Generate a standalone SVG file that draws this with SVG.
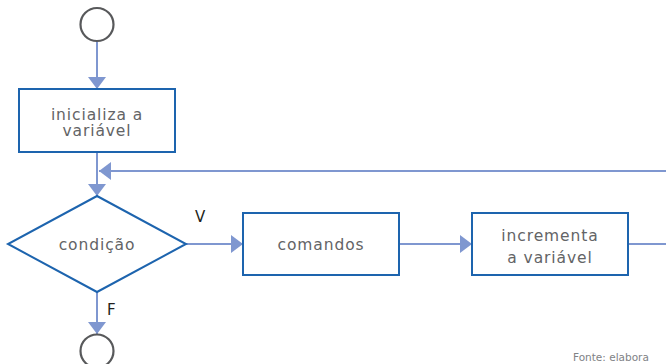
<svg xmlns="http://www.w3.org/2000/svg" width="666" height="364" viewBox="0 0 666 364">
<defs>
<style>
.term{fill:#fff;stroke:#58595b;stroke-width:2.2}
.box{fill:#fff;stroke:#1d64ae;stroke-width:2}
.lbl{font-family:"DejaVu Sans","Liberation Sans",sans-serif;font-size:15.5px;letter-spacing:0.9px;fill:#636466;text-anchor:middle}
.vf{font-family:"DejaVu Sans","Liberation Sans",sans-serif;font-size:15px;fill:#231f20}
.ln{fill:none;stroke:#7f97d0;stroke-width:2}
.src{font-family:"DejaVu Sans","Liberation Sans",sans-serif;font-size:10.5px;fill:#808285}
</style>
<marker id="ah" viewBox="0 0 12 18" refX="12" refY="9" markerWidth="12" markerHeight="18" markerUnits="userSpaceOnUse" orient="auto">
<path d="M0,0 L12,9 L0,18 Z" fill="#7f97d0"/>
</marker>
</defs>
<g id="connectors">
<line class="ln" x1="97" y1="42" x2="97" y2="89" marker-end="url(#ah)"/>
<line class="ln" x1="97" y1="152" x2="97" y2="196" marker-end="url(#ah)"/>
<polyline class="ln" points="628,244 666,244"/>
<line class="ln" x1="666" y1="171" x2="99" y2="171" marker-end="url(#ah)"/>
<line class="ln" x1="186" y1="244" x2="243" y2="244" marker-end="url(#ah)"/>
<line class="ln" x1="399" y1="244" x2="472" y2="244" marker-end="url(#ah)"/>
<line class="ln" x1="97" y1="292" x2="97" y2="334" marker-end="url(#ah)"/>
<text class="vf" x="195" y="222">V</text>
<text class="vf" x="107" y="315">F</text>
</g>
<g id="start">
<circle class="term" cx="97" cy="24.5" r="16.5"/>
</g>
<g id="init">
<rect class="box" x="19" y="89" width="156" height="63"/>
<text class="lbl" x="97" y="119.5">inicializa a</text>
<text class="lbl" x="97" y="136">variável</text>
</g>
<g id="cond">
<polygon class="box" points="97,196 186,244 97,292 8,244"/>
<text class="lbl" x="97" y="250">condição</text>
</g>
<g id="cmd">
<rect class="box" x="243" y="213" width="156" height="62"/>
<text class="lbl" x="321" y="250">comandos</text>
</g>
<g id="inc">
<rect class="box" x="472" y="213" width="156" height="62"/>
<text class="lbl" x="550" y="241">incrementa</text>
<text class="lbl" x="550" y="263">a variável</text>
</g>
<g id="end">
<circle class="term" cx="97" cy="351" r="16.5"/>
</g>
<text class="src" x="573" y="361">Fonte: elabora</text>
</svg>
